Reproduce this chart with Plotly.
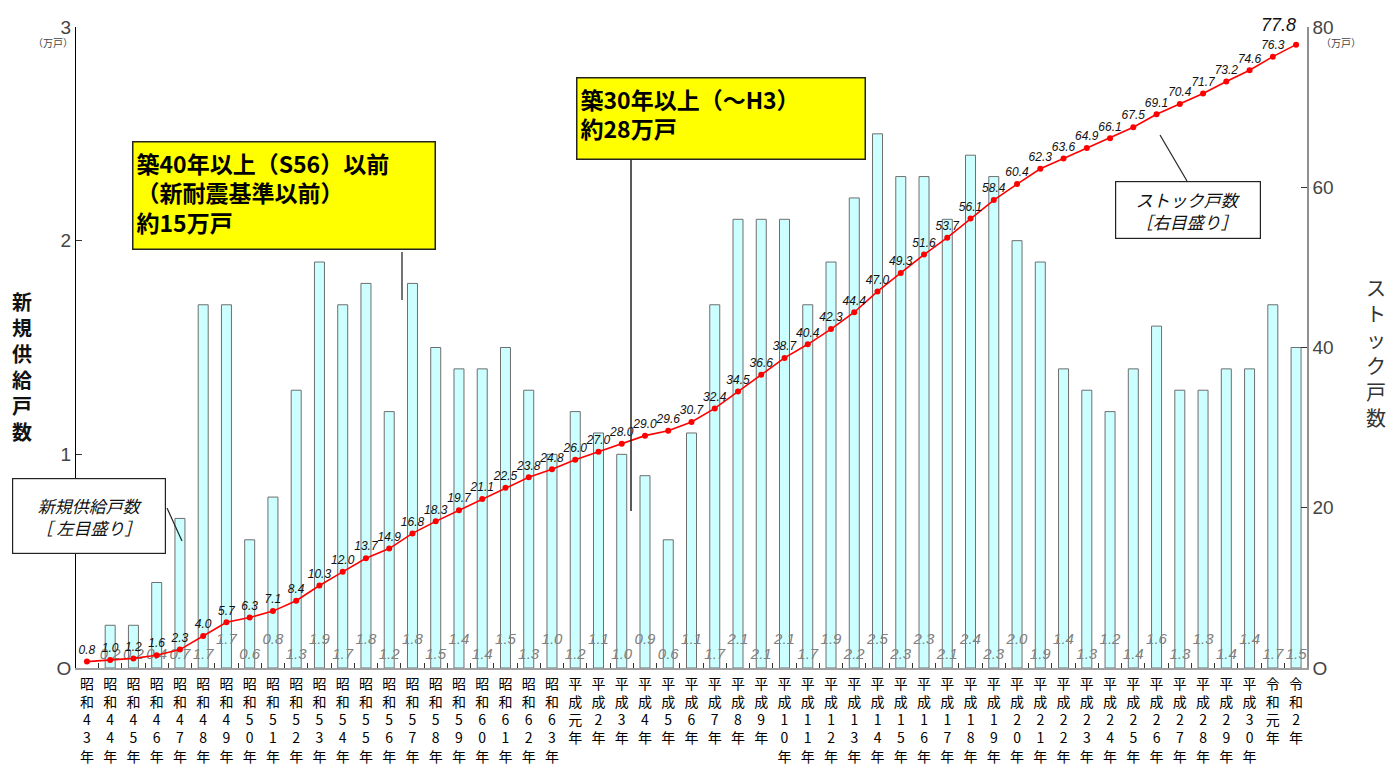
import plotly.graph_objects as go

years = ["昭和43年", "昭和44年", "昭和45年", "昭和46年", "昭和47年", "昭和48年", "昭和49年",
         "昭和50年", "昭和51年", "昭和52年", "昭和53年", "昭和54年", "昭和55年", "昭和56年",
         "昭和57年", "昭和58年", "昭和59年", "昭和60年", "昭和61年", "昭和62年", "昭和63年",
         "平成元年", "平成2年", "平成3年", "平成4年", "平成5年", "平成6年", "平成7年", "平成8年",
         "平成9年", "平成10年", "平成11年", "平成12年", "平成13年", "平成14年", "平成15年",
         "平成16年", "平成17年", "平成18年", "平成19年", "平成20年", "平成21年", "平成22年",
         "平成23年", "平成24年", "平成25年", "平成26年", "平成27年", "平成28年", "平成29年",
         "平成30年", "令和元年", "令和2年"]

new_supply = [None, 0.2, 0.2, 0.4, 0.7, 1.7, 1.7, 0.6, 0.8, 1.3, 1.9, 1.7, 1.8, 1.2, 1.8,
              1.5, 1.4, 1.4, 1.5, 1.3, 1.0, 1.2, 1.1, 1.0, 0.9, 0.6, 1.1, 1.7, 2.1, 2.1,
              2.1, 1.7, 1.9, 2.2, 2.5, 2.3, 2.3, 2.1, 2.4, 2.3, 2.0, 1.9, 1.4, 1.3, 1.2,
              1.4, 1.6, 1.3, 1.3, 1.4, 1.4, 1.7, 1.5]

stock = [0.8, 1.0, 1.2, 1.6, 2.3, 4.0, 5.7, 6.3, 7.1, 8.4, 10.3, 12.0, 13.7, 14.9, 16.8,
         18.3, 19.7, 21.1, 22.5, 23.8, 24.8, 26.0, 27.0, 28.0, 29.0, 29.6, 30.7, 32.4,
         34.5, 36.6, 38.7, 40.4, 42.3, 44.4, 47.0, 49.3, 51.6, 53.7, 56.1, 58.4, 60.4,
         62.3, 63.6, 64.9, 66.1, 67.5, 69.1, 70.4, 71.7, 73.2, 74.6, 76.3, 77.8]

left_ticks = [0, 1, 2, 3]
right_ticks = [0, 20, 40, 60, 80]

JP = "Noto Sans CJK JP"
LAT = "Liberation Sans"

# page body margin offsets the figure by 8px
OFF = 8
W, H = 1397 - OFF, 771 - OFF
# plot-area geometry in screen pixels
X0, X1, YT, YB = 76, 1307, 27, 668


def px(x):
    return (x - X0) / (X1 - X0)


def py(y):
    return (YB - y) / (YB - YT)


fig = go.Figure()

fig.add_trace(go.Bar(
    x=years, y=new_supply, width=0.43,
    marker=dict(color="#CCFFFF", line=dict(color="#6E6E6E", width=1)),
    yaxis="y", showlegend=False, hoverinfo="x+y",
))

# grey bar value labels near the bottom, alternating heights
lab_y = []
lab_t = []
n = len(years)
for i, v in enumerate(new_supply):
    upper = (5 < i < n - 1) and (i % 2 == 0)
    lab_y.append(0.128 if upper else 0.062)
    lab_t.append("" if v is None else f"{v:.1f}")

fig.add_trace(go.Scatter(
    x=years, y=lab_y, mode="text", text=lab_t, textposition="middle center",
    textfont=dict(family=LAT, size=15, color="#808080", style="italic"),
    yaxis="y", showlegend=False, hoverinfo="skip",
))

stock_text = [f"{v:.1f}" for v in stock[:-1]] + [""]
fig.add_trace(go.Scatter(
    x=years, y=stock, mode="lines+markers+text", text=stock_text,
    textposition="top center",
    textfont=dict(family=LAT, size=12, color="#111111", style="italic"),
    line=dict(color="#FF0000", width=1.6),
    marker=dict(color="#FF0000", size=6),
    yaxis="y2", showlegend=False,
))

tickvals = years
ticktext = ["<br>".join(list(s)) for s in years]

fig.update_layout(
    width=W, height=H,
    margin=dict(l=X0 - OFF, r=W - (X1 - OFF), t=YT - OFF, b=H - (YB - OFF), autoexpand=False),
    paper_bgcolor="white", plot_bgcolor="white",
    bargap=0.5,
    xaxis=dict(
        type="category", tickvals=tickvals, ticktext=ticktext,
        range=[-0.47, n - 1 + 0.47], automargin=False,
        showline=True, linecolor="#A0A0A0", linewidth=2,
        ticks="inside", tickson="boundaries", ticklen=5, tickcolor="#333333",
        tickfont=dict(family=JP, size=14, color="#000000"), ticklabelstandoff=2,
        showgrid=False, zeroline=False, tickangle=0,
    ),
    yaxis=dict(
        range=[0, 3], tickvals=left_ticks, ticktext=["O" if t == 0 else str(t) for t in left_ticks],
        showline=True, linecolor="#000000", linewidth=1, automargin=False,
        ticks="inside", ticklen=6, tickcolor="#333333",
        tickfont=dict(family=LAT, size=19, color="#444444"),
        showgrid=False, zeroline=False,
    ),
    yaxis2=dict(
        range=[0, 80], tickvals=right_ticks, ticktext=["O" if t == 0 else str(t) for t in right_ticks],
        overlaying="y", side="right", automargin=False,
        showline=True, linecolor="#909090", linewidth=1.5,
        ticks="inside", ticklen=6, tickcolor="#333333",
        tickfont=dict(family=LAT, size=19, color="#444444"),
        showgrid=False, zeroline=False,
    ),
)

ann = []
# units
ann.append(dict(x=px(53), y=py(42), xref="paper", yref="paper", text="（万戸）",
                xanchor="center", yanchor="middle",
                showarrow=False, font=dict(family=JP, size=10, color="#444444")))
ann.append(dict(x=px(1341), y=py(42), xref="paper", yref="paper", text="（万戸）",
                xanchor="center", yanchor="middle",
                showarrow=False, font=dict(family=JP, size=10, color="#444444")))

# axis titles
ann.append(dict(x=px(22), y=py(366), xref="paper", yref="paper",
                xanchor="center", yanchor="middle",
                text="<b>" + "<br>".join(list("新規供給戸数")) + "</b>",
                showarrow=False, font=dict(family=JP, size=20, color="#111111")))
ann.append(dict(x=px(1376), y=py(352), xref="paper", yref="paper",
                xanchor="center", yanchor="middle",
                text="<br>".join(list("ストック戸数")),
                showarrow=False, font=dict(family=JP, size=20, color="#333333")))

# last stock value
ann.append(dict(x=years[-1], y=stock[-1], xref="x", yref="y2", text=f"<i>{stock[-1]:.1f}</i>",
                showarrow=False, xanchor="right", yanchor="bottom", xshift=2, yshift=8,
                font=dict(family=LAT, size=18, color="#111111")))

# yellow boxes
ann.append(dict(x=px(132), y=py(141), xref="paper", yref="paper", xanchor="left", yanchor="top",
                text="<b>築40年以上（S56）以前<br>（新耐震基準以前）<br>約15万戸</b>",
                align="left", showarrow=False, width=295, height=100, valign="top",
                bgcolor="#FFFF00", bordercolor="#222222", borderwidth=1.5, borderpad=3,
                font=dict(family=JP, size=23, color="#000000")))
ann.append(dict(x=px(576), y=py(77), xref="paper", yref="paper", xanchor="left", yanchor="top",
                text="<b>築30年以上（～H3）<br>約28万戸</b>",
                align="left", showarrow=False, width=281, height=74, valign="top",
                bgcolor="#FFFF00", bordercolor="#222222", borderwidth=1.5, borderpad=3,
                font=dict(family=JP, size=23, color="#000000")))

# white legend-like boxes
ann.append(dict(x=px(1115), y=py(181), xref="paper", yref="paper", xanchor="left", yanchor="top",
                text="<i>ストック戸数<br>［右目盛り］</i>",
                align="center", showarrow=False, width=138, height=50,
                bgcolor="#FFFFFF", bordercolor="#222222", borderwidth=1.2, borderpad=3,
                font=dict(family=JP, size=17, color="#111111")))
ann.append(dict(x=px(12), y=py(478), xref="paper", yref="paper", xanchor="left", yanchor="top",
                text="<i>新規供給戸数<br>［ 左目盛り］</i>",
                align="center", showarrow=False, width=146, height=68,
                bgcolor="#FFFFFF", bordercolor="#222222", borderwidth=1.2, borderpad=3,
                font=dict(family=JP, size=17, color="#111111")))

fig.update_layout(annotations=ann)

shapes = [
    dict(type="line", xref="paper", yref="paper", x0=px(402), y0=py(252), x1=px(402), y1=py(300),
         line=dict(color="#444444", width=1.5)),
    dict(type="line", xref="paper", yref="paper", x0=px(631), y0=py(160), x1=px(631), y1=py(511),
         line=dict(color="#222222", width=1.5)),
    dict(type="line", xref="paper", yref="paper", x0=px(1160), y0=py(135), x1=px(1187), y1=py(181),
         line=dict(color="#222222", width=1.2)),
    dict(type="line", xref="paper", yref="paper", x0=px(167), y0=py(508), x1=px(182), y1=py(541),
         line=dict(color="#222222", width=1.2)),
]
fig.update_layout(shapes=shapes)

fig.write_html("out.html")
